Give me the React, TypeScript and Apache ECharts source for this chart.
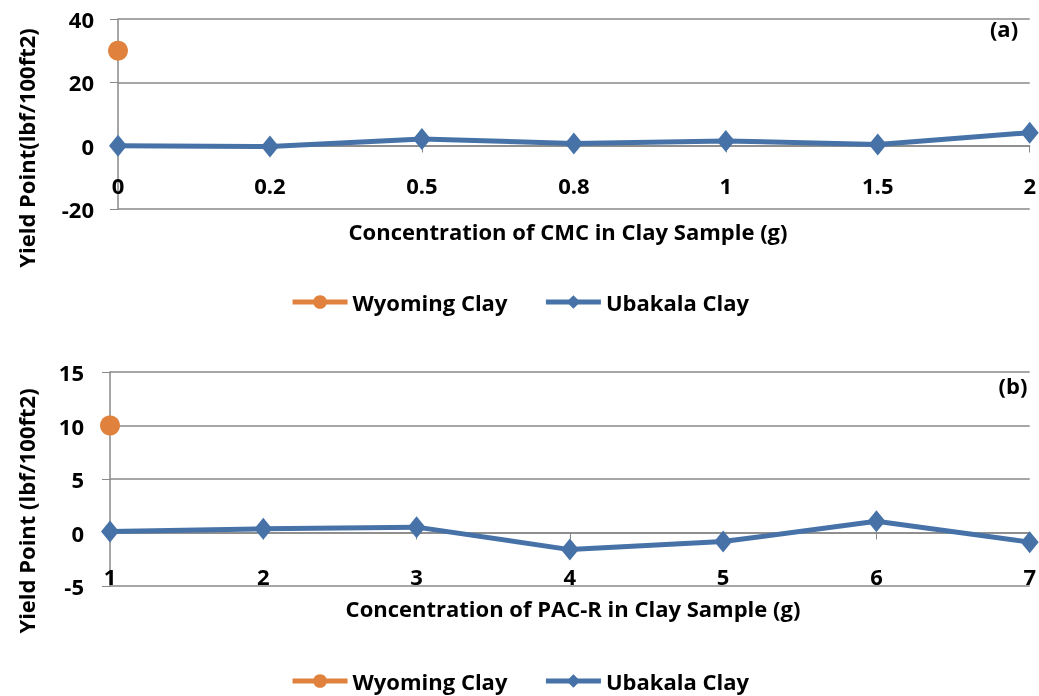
import React, { useEffect, useRef } from "react";
import * as echarts from "echarts";

const cmcCategories = ["0", "0.2", "0.5", "0.8", "1", "1.5", "2"];
const cmcWyoming = [30, null, null, null, null, null, null];
const cmcUbakala = [0, -0.3, 2.1, 0.7, 1.5, 0.4, 4.1];

const pacCategories = ["1", "2", "3", "4", "5", "6", "7"];
const pacWyoming = [10, null, null, null, null, null, null];
const pacUbakala = [0.1, 0.35, 0.5, -1.6, -0.85, 1.05, -0.9];

const FONT = "Open Sans";
const FS = 22;
const ORANGE = "#e0823d";
const BLUE = "#4672a8";
const GRAY = "#888888";

export default function App() {
  const ref = useRef<HTMLDivElement>(null);
  useEffect(() => {
    const chart = echarts.init(ref.current!, null, { renderer: "svg" });
    const xAxisBase = (gridIndex: number, data: string[], margin: number, offset: number) => ({
      type: "category",
      gridIndex,
      data,
      position: "bottom",
      offset,
      boundaryGap: false,
      axisLine: { onZero: false, lineStyle: { color: GRAY, width: 1.5 } },
      axisTick: { show: true, length: 7, alignWithLabel: true, lineStyle: { color: GRAY } },
      axisLabel: { margin, color: "#000", fontFamily: FONT, fontWeight: "bold", fontSize: FS },
      splitLine: { show: false },
    });
    const yAxisBase = (gridIndex: number, min: number, max: number, interval: number, margin: number) => ({
      type: "value",
      gridIndex,
      min,
      max,
      interval,
      axisLine: { show: true, lineStyle: { color: GRAY, width: 1.5 } },
      axisTick: { show: true, length: 8, lineStyle: { color: GRAY } },
      axisLabel: { margin, color: "#000", fontFamily: FONT, fontWeight: "bold", fontSize: FS },
      splitLine: { show: true, lineStyle: { color: GRAY, width: 1.5 } },
    });
    const wy = (xi: number, data: (number | null)[]) => ({
      name: "Wyoming Clay",
      type: "line",
      xAxisIndex: xi,
      yAxisIndex: xi,
      data,
      symbol: "circle",
      symbolSize: 20,
      itemStyle: { color: ORANGE },
      lineStyle: { color: ORANGE, width: 5 },
      z: 3,
    });
    const ub = (xi: number, data: number[]) => ({
      name: "Ubakala Clay",
      type: "line",
      xAxisIndex: xi,
      yAxisIndex: xi,
      data,
      symbol: "diamond",
      symbolSize: [18, 22],
      itemStyle: { color: BLUE },
      lineStyle: { color: BLUE, width: 5 },
      z: 4,
    });
    const legend = (top: number) => ({
      top,
      left: "center",
      itemWidth: 55,
      itemHeight: 17,
      itemGap: 36,
      data: ["Wyoming Clay", "Ubakala Clay"],
      lineStyle: { width: 5 },
      textStyle: { color: "#000", fontFamily: FONT, fontWeight: "bold", fontSize: FS },
    });
    const txt = (x: number, y: number, text: string, rotation = 0) => ({
      type: "text",
      x,
      y,
      rotation,
      style: {
        text,
        fill: "#000",
        font: `bold ${FS}px '${FONT}'`,
        textAlign: "center",
        textVerticalAlign: "middle",
      },
    });
    chart.setOption({
      animation: false,
      grid: [
        { left: 118, top: 19, right: 9, height: 190 },
        { left: 110, top: 372, right: 9, height: 214 },
      ],
      xAxis: [xAxisBase(0, cmcCategories, 28, -63.5), xAxisBase(1, pacCategories, 32, -53.5)],
      yAxis: [yAxisBase(0, -20, 40, 20, 24), yAxisBase(1, -5, 15, 5, 26)],
      legend: [legend(286), legend(665)],
      series: [wy(0, cmcWyoming), ub(0, cmcUbakala), wy(1, pacWyoming), ub(1, pacUbakala)],
      graphic: [
        txt(568, 231, "Concentration of CMC in Clay Sample (g)"),
        txt(573, 608, "Concentration of PAC-R in Clay Sample (g)"),
        txt(26, 148, "Yield Point(lbf/100ft2)", Math.PI / 2),
        txt(26, 511, "Yield Point (lbf/100ft2)", Math.PI / 2),
        txt(1004, 28, "(a)"),
        txt(1013, 385, "(b)"),
      ],
    });
    return () => chart.dispose();
  }, []);
  return (
    <div
      ref={ref}
      style={{ position: "fixed", left: 0, top: 0, width: 1039, height: 696 }}
    />
  );
}
